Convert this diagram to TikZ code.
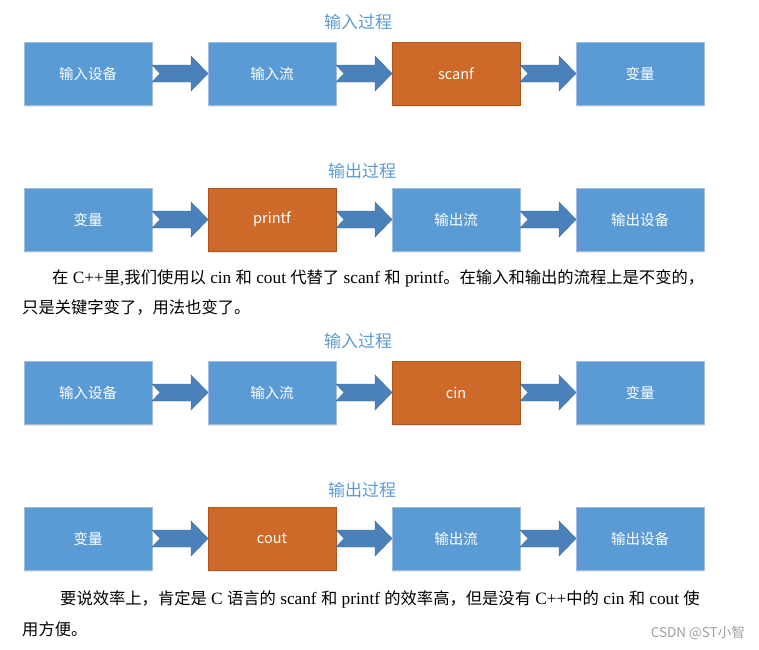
\documentclass[tikz,border=0pt]{standalone}
\usepackage{fontspec}
\setmainfont[Scale=1.06]{Liberation Serif}
\newfontfamily\cjk{Noto Sans CJK SC}
\usepackage{xcolor}
\usepackage{tikz}
\usetikzlibrary{positioning, calc, shadows}
\definecolor{boxblue}{HTML}{5B9BD5}
\definecolor{blueedge}{HTML}{A3BCDB}
\definecolor{boxorange}{HTML}{CD6A2A}
\definecolor{orangeedge}{HTML}{B0561C}
\definecolor{arrowblue}{HTML}{4A81BA}
\definecolor{titleblue}{HTML}{5B9BD5}
\tikzset{
    base/.style={thick, font=\cjk\fontsize{14.5}{16}\selectfont, text=white, align=center,
                 minimum width=128pt, minimum height=63pt, inner sep=0pt, outer sep=0pt,
                 drop shadow={opacity=0.18, shadow xshift=0pt, shadow yshift=-2pt}},
    block/.style={base, rectangle, draw=blueedge, fill=boxblue},
    blockfunc/.style={base, rectangle, draw=orangeedge, fill=boxorange},
    flow/.style={fill=arrowblue, draw=arrowblue!85!black, line width=0.4pt},
    title/.style={font=\cjk\fontsize{17}{19}\selectfont, text=titleblue},
    para/.style={anchor=west, inner sep=0pt, font=\fontsize{16.3}{18}\selectfont}
}
\newcommand{\zh}[1]{{\cjk #1}}
% notched block arrow from one box to the next
\newcommand{\blockarrow}[2]{%
    \path[flow] ($(#1.east)+(0,-8.5)$) -- ($(#2.west)+(-17,-8.5)$) -- ($(#2.west)+(-17,-17.5)$)
        -- (#2.west) -- ($(#2.west)+(-17,17.5)$) -- ($(#2.west)+(-17,8.5)$)
        -- ($(#1.east)+(0,8.5)$) -- ($(#1.east)+(8,0)$) -- cycle;}

\begin{document}
\begin{tikzpicture}[x=1pt, y=-1pt, node distance=56pt]
    \useasboundingbox (0,0) rectangle (759,649);

    % input, printf style
    \node [title] (Title1) at (358,22) {输入过程};
    \node [block] (InDev1) at (88,73.5) {输入设备};
    \node [block, right=of InDev1] (InStream1) {输入流};
    \node [blockfunc, right=of InStream1] (Scanf) {scanf};
    \node [block, right=of Scanf] (Var1) {变量};
    \blockarrow{InDev1}{InStream1}
    \blockarrow{InStream1}{Scanf}
    \blockarrow{Scanf}{Var1}

    \node [title] (Title2) at (362,171) {输出过程};
    \node [block] (Var2) at (88,219.5) {变量};
    \node [blockfunc, right=of Var2] (Printf) {printf};
    \node [block, right=of Printf] (OutStream2) {输出流};
    \node [block, right=of OutStream2] (OutDev2) {输出设备};
    \blockarrow{Var2}{Printf}
    \blockarrow{Printf}{OutStream2}
    \blockarrow{OutStream2}{OutDev2}

    \node [para] (Para1a) at (52,278) {\zh{在} C++\zh{里},\zh{我们使用以} cin \zh{和} cout \zh{代替了} scanf \zh{和} printf\zh{。在输入和输出的流程上是不变的，}};
    \node [para] (Para1b) at (22,307) {\zh{只是关键字变了，用法也变了。}};

    % input, cin style
    \node [title] (Title3) at (358,341) {输入过程};
    \node [block] (InDev3) at (88,392.5) {输入设备};
    \node [block, right=of InDev3] (InStream3) {输入流};
    \node [blockfunc, right=of InStream3] (Cin) {cin};
    \node [block, right=of Cin] (Var3) {变量};
    \blockarrow{InDev3}{InStream3}
    \blockarrow{InStream3}{Cin}
    \blockarrow{Cin}{Var3}

    \node [title] (Title4) at (362,490) {输出过程};
    \node [block] (Var4) at (88,538.5) {变量};
    \node [blockfunc, right=of Var4] (Cout) {cout};
    \node [block, right=of Cout] (OutStream4) {输出流};
    \node [block, right=of OutStream4] (OutDev4) {输出设备};
    \blockarrow{Var4}{Cout}
    \blockarrow{Cout}{OutStream4}
    \blockarrow{OutStream4}{OutDev4}

    \node [para] (Para2a) at (60,599) {\zh{要说效率上，肯定是} C \zh{语言的} scanf \zh{和} printf \zh{的效率高，但是没有} C++\zh{中的} cin \zh{和} cout \zh{使}};
    \node [para] (Para2b) at (22,629) {\zh{用方便。}};

    \node [anchor=east, inner sep=0pt, text=gray!75, font=\cjk\fontsize{13.5}{15}\selectfont] (Mark) at (745,633) {CSDN @ST小智};
\end{tikzpicture}
\end{document}
